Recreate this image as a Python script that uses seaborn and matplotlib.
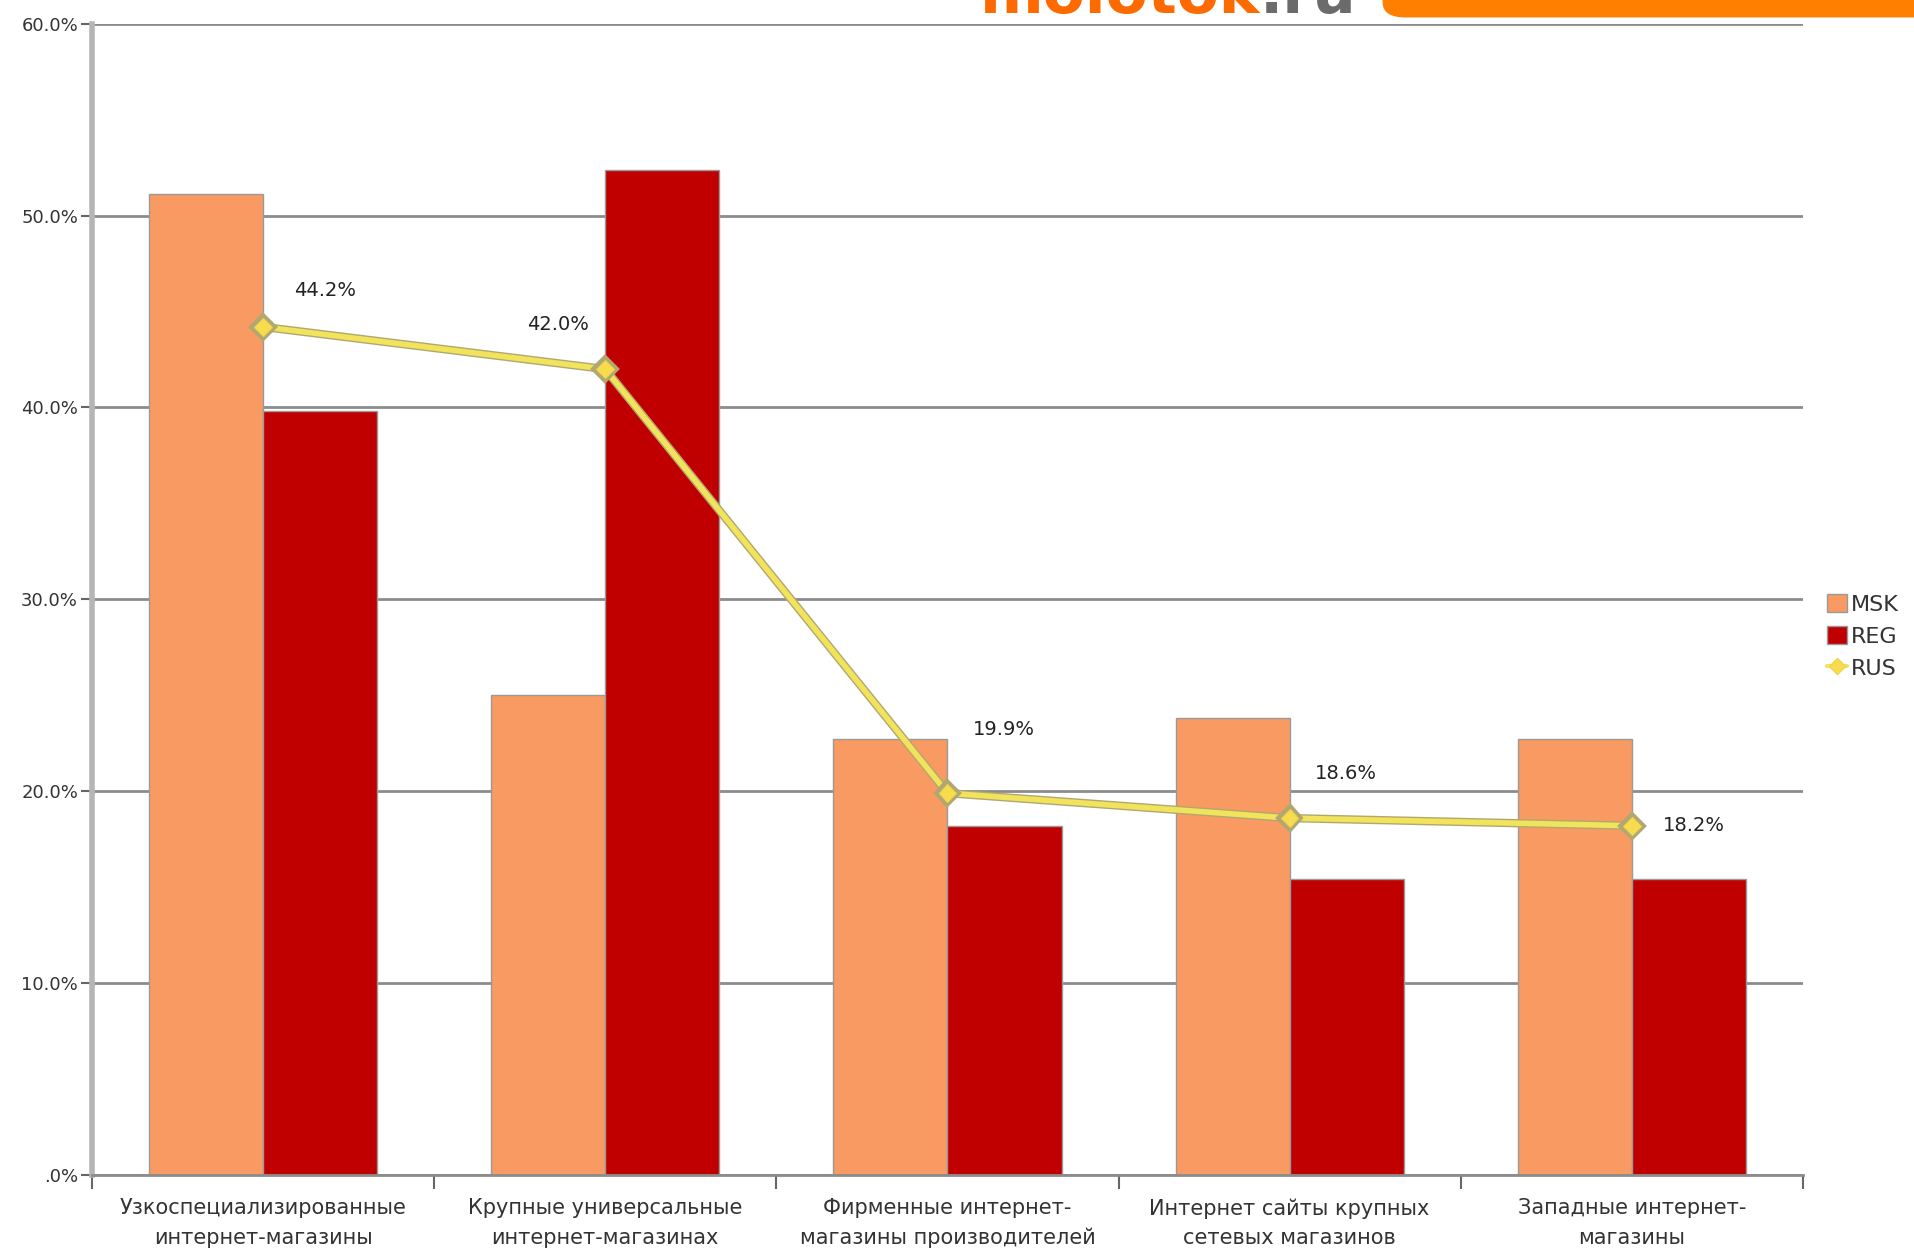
import pandas as pd
import matplotlib.pyplot as plt
import matplotlib.patheffects as pe
from matplotlib.patches import FancyBboxPatch, Patch
from matplotlib.lines import Line2D
import seaborn as sns

# данные
categories = ['Узкоспециализированные\nинтернет-магазины',
              'Крупные универсальные\nинтернет-магазинах',
              'Фирменные интернет-\nмагазины производителей',
              'Интернет сайты крупных\nсетевых магазинов',
              'Западные интернет-\nмагазины']
msk = [51.1, 25.0, 22.7, 23.8, 22.7]
reg = [39.8, 52.4, 18.2, 15.4, 15.4]
rus = [44.2, 42.0, 19.9, 18.6, 18.2]
y_ticks = [0, 10, 20, 30, 40, 50, 60]
y_labels = ['.0%', '10.0%', '20.0%', '30.0%', '40.0%', '50.0%', '60.0%']

df = pd.DataFrame({'cat': categories * 2,
                   'value': msk + reg,
                   'series': ['MSK'] * 5 + ['REG'] * 5})

sns.set_theme(style='white')
plt.rcParams['font.family'] = ['DejaVu Sans']

fig = plt.figure(figsize=(19.15, 12.48), dpi=100)
ax = fig.add_axes([0.048, 0.0585, 0.8935, 0.9225])

sns.barplot(data=df, x='cat', y='value', hue='series', order=categories,
            palette={'MSK': '#F99A62', 'REG': '#C00000'}, width=0.667,
            edgecolor='#9a9a9a', linewidth=1, saturation=1, ax=ax, legend=False)

# линия RUS
pos = list(range(len(categories)))
sns.lineplot(x=pos, y=rus, ax=ax, color='#F2E35C', linewidth=4, marker='D',
             markersize=9, markeredgecolor='#F2D24A', markerfacecolor='#F7DC50',
             path_effects=[pe.Stroke(linewidth=6, foreground='#B0A870'), pe.Normal()],
             zorder=5)

offsets = [(22, 26), (-56, 32), (18, 46), (18, 32), (22, 0)]
for i, v in enumerate(rus):
    ax.annotate(f'{v:.1f}%', (i, v), xytext=offsets[i], textcoords='offset points',
                fontsize=14, color='#222222', va='center', ha='left')

# оси
ax.set_xlim(-0.5, 4.5)
ax.set_ylim(0, 60)
ax.set_yticks(y_ticks)
ax.set_yticklabels(y_labels, fontsize=13, color='#333333')
ax.set_xticks([p - 0.5 for p in pos] + [4.5])
ax.set_xticklabels([])
for i, c in enumerate(categories):
    ax.text(i, -1.2, c, ha='center', va='top', fontsize=15, color='#333333',
            linespacing=1.6)
ax.set_xlabel('')
ax.set_ylabel('')
ax.yaxis.grid(True, color='#8c8c8c', linewidth=2)
ax.set_axisbelow(True)
ax.tick_params(axis='y', left=True, length=8, width=1.5, color='#666666', pad=2)
ax.tick_params(axis='x', bottom=True, length=10, width=1.5, color='#666666', direction='out')
for s in ['top', 'right']:
    ax.spines[s].set_visible(False)
ax.spines['left'].set_color('#b5b5b5')
ax.spines['left'].set_linewidth(4)
ax.spines['bottom'].set_color('#8c8c8c')
ax.spines['bottom'].set_linewidth(2)

# легенда
handles = [Patch(facecolor='#F99A62', edgecolor='#9a9a9a', label='MSK'),
           Patch(facecolor='#C00000', edgecolor='#9a9a9a', label='REG'),
           Line2D([0], [0], color='#F2E35C', linewidth=3, marker='D', markersize=8,
                  markerfacecolor='#F7DC50', markeredgecolor='#F2D24A', label='RUS')]
fig.legend(handles=handles, loc='center left', bbox_to_anchor=(0.954, 0.49),
           frameon=False, fontsize=16, handlelength=0.9, handleheight=0.9,
           handletextpad=0.2, labelspacing=0.5, labelcolor='#333333',
           borderaxespad=0, borderpad=0)

# логотип сверху
fig.text(0.658, 0.9895, 'molotok', ha='right', va='baseline', fontsize=44,
         color='#FF6A00', fontweight='bold')
fig.text(0.658, 0.9895, '.ru', ha='left', va='baseline', fontsize=44,
         color='#6b6b6b', fontweight='bold')
fig.patches.append(FancyBboxPatch((0.722, 0.986), 0.29, 0.05,
                                  boxstyle='round,pad=0,rounding_size=0.012',
                                  transform=fig.transFigure, facecolor='#FF7F00',
                                  edgecolor='none', zorder=3))

fig.savefig('out.png', dpi=100)
